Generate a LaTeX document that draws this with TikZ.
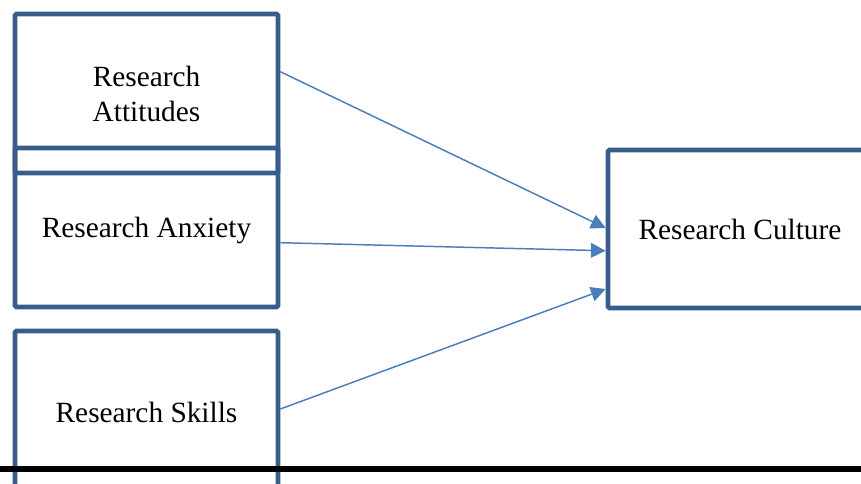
\documentclass[tikz,border=0pt]{standalone}
\usepackage{fontspec}
\setmainfont{Liberation Serif}
\usetikzlibrary{arrows.meta}

\definecolor{boxblue}{RGB}{56,93,138}
\definecolor{arrblue}{RGB}{74,126,187}

\tikzset{every picture/.style={line width=0.75pt}}
\tikzset{
  varbox/.style={draw=boxblue, line width=3.5pt, rounded corners=1pt,
    minimum width=197.25pt, minimum height=119.25pt, inner sep=0pt,
    align=center, font=\fontsize{22}{26.25}\selectfont},
  onerow/.style={text depth=0pt},
  arr/.style={draw=arrblue, line width=1.1pt,
    -{Triangle[length=11pt,width=11pt]}}
}

\begin{document}
\begin{tikzpicture}[x=0.75pt,y=0.75pt,yscale=-1,xscale=1]
\useasboundingbox (0,0) rectangle (861,483);
\clip (0,0) rectangle (861,483);

% Shape: Rectangle
\node [varbox] (att) at (146.5,93.5) {Research\\Attitudes};
% Shape: Rectangle
\node [varbox, onerow] (anx) at (146.5,227.5) {Research Anxiety};
% Shape: Rectangle
\node [varbox, onerow, minimum height=121.5pt] (skl) at (146.5,412) {Research Skills};
% Shape: Rectangle
\node [varbox, onerow, minimum width=198pt, minimum height=118.5pt] (cul) at (740,229) {Research Culture};

% Straight Lines [id:arrows]
\draw [arr] ([yshift=-16.35pt]att.east) -- ([yshift=-0.75pt]cul.west);
\draw [arr] ([yshift=11.4pt]anx.east) -- ([yshift=16.3pt]cul.west);
\draw [arr] ([yshift=-2.25pt]skl.east) -- ([yshift=45pt]cul.west);

% Straight Lines [id:rule]
\draw [line width=4.5pt] (0,469) -- (861,469);
\end{tikzpicture}
\end{document}
